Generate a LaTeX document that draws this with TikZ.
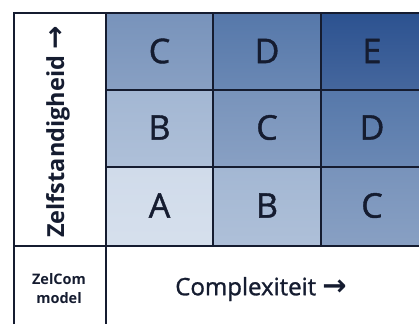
\documentclass[tikz,border=0pt]{standalone}
\usepackage{fontspec}
\setmainfont{Open Sans}
\newfontfamily\medfont[FakeBold=1.2]{Open Sans}
\newfontfamily\arrfont{DejaVu Sans}
\begin{document}
\begin{tikzpicture}[x=1pt,y=-1pt,
  gridline/.style={draw=navytxt, line width=1.4pt},
  lettr/.style={font=\medfont\fontsize{34}{36}\selectfont, text=navytxt}]
\definecolor{navytxt}{HTML}{151C30}
\definecolor{cA}{HTML}{D0DBEA}
\definecolor{cB}{HTML}{A3B7D3}
\definecolor{cC}{HTML}{7893BB}
\definecolor{cD}{HTML}{5678AA}
\definecolor{cE}{HTML}{2C5290}
\useasboundingbox (0,0) rectangle (419,324);
\fill[white] (0,0) rectangle (419,324);
% cells
\def\cellfill#1#2#3#4#5{\shade[top color=#5, bottom color=#5!88!white] (#1,#2) rectangle (#3,#4);}
\cellfill{106}{13}{213}{90}{cC}
\cellfill{213}{13}{321}{90}{cD}
\cellfill{321}{13}{419}{90}{cE}
\cellfill{106}{90}{213}{167}{cB}
\cellfill{213}{90}{321}{167}{cC}
\cellfill{321}{90}{419}{167}{cD}
\cellfill{106}{167}{213}{246}{cA}
\cellfill{213}{167}{321}{246}{cB}
\cellfill{321}{167}{419}{246}{cC}
% grid lines
\draw[gridline] (14,324) -- (14,13) -- (419,13);
\draw[gridline] (106,13) -- (106,324);
\draw[gridline] (213,13) -- (213,246);
\draw[gridline] (321,13) -- (321,246);
\draw[gridline] (106,90) -- (419,90);
\draw[gridline] (106,167) -- (419,167);
\draw[gridline] (14,246) -- (419,246);
% letters
\node[lettr] (c11) at (159.5,51) {C};
\node[lettr] (c12) at (267,51) {D};
\node[lettr] (c13) at (372,51) {E};
\node[lettr] (c21) at (159.5,127.5) {B};
\node[lettr] (c22) at (267,127.5) {C};
\node[lettr] (c23) at (372,127.5) {D};
\node[lettr] (c31) at (159.5,205.5) {A};
\node[lettr] (c32) at (267,205.5) {B};
\node[lettr] (c33) at (372,205.5) {C};
% axis labels
\node[rotate=90, font=\bfseries\fontsize{23.5}{26}\selectfont, text=navytxt] (zelf) at (58,132) {Zelfstandigheid {\arrfont\bfseries\fontsize{28}{28}\selectfont →}};
\node[font=\medfont\fontsize{24}{26}\selectfont, text=navytxt] (comp) at (261,289) {Complexiteit {\arrfont\bfseries\fontsize{29}{29}\selectfont →}};
\node[font=\bfseries\fontsize{14.5}{19}\selectfont, text=navytxt, align=center] (zel) at (59,289) {ZelCom\\model};
\end{tikzpicture}
\end{document}
